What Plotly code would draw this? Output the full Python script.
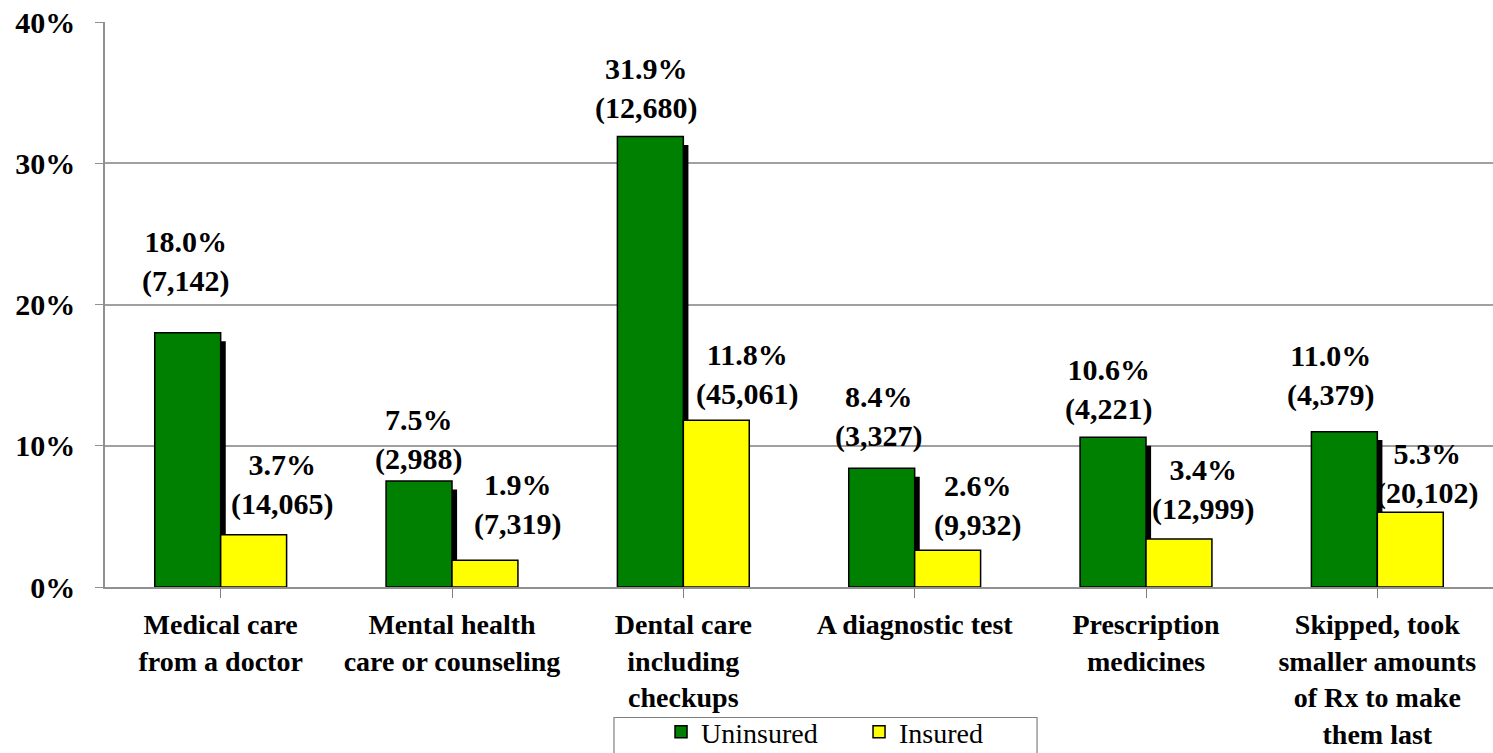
import plotly.graph_objects as go

categories = [
    "Medical care<br>from a doctor",
    "Mental health<br>care or counseling",
    "Dental care<br>including<br>checkups",
    "A diagnostic test",
    "Prescription<br>medicines",
    "Skipped, took<br>smaller amounts<br>of Rx to make<br>them last",
]
uninsured_pct = [18.0, 7.5, 31.9, 8.4, 10.6, 11.0]
uninsured_n = [7142, 2988, 12680, 3327, 4221, 4379]
insured_pct = [3.7, 1.9, 11.8, 2.6, 3.4, 5.3]
insured_n = [14065, 7319, 45061, 9932, 12999, 20102]
y_ticks = [0, 10, 20, 30, 40]

# label placement tweaks (pixels), matching the hand-placed labels
green_dx = [-2, -1, -4, -3, -5, -14]
green_dy = [71, 42, 48, 52, 48, 56]
yellow_dx = [28, 33, 31, 30, 24, 17]
yellow_dy = [50, 56, 46, 45, 49, 39]

FONT = "Liberation Serif, Times New Roman, serif"
W = 0.285
xs = list(range(len(categories)))

fig = go.Figure()
# drop shadow behind the green bars
fig.add_trace(go.Bar(
    x=xs, y=[v - 0.3 for v in uninsured_pct], base=-0.3,
    offset=-W + 0.022, width=W,
    marker=dict(color="black", line=dict(width=0)),
    showlegend=False, hoverinfo="skip",
))
fig.add_trace(go.Bar(
    x=xs, y=uninsured_pct, name="Uninsured", offset=-W, width=W,
    marker=dict(color="#008000", line=dict(color="black", width=1.5)),
))
fig.add_trace(go.Bar(
    x=xs, y=insured_pct, name="Insured", offset=0, width=W,
    marker=dict(color="#FFFF00", line=dict(color="black", width=1.5)),
))

lab_font = dict(family=FONT, size=30, color="black", weight="bold")
for i in xs:
    fig.add_annotation(
        x=i - W / 2, y=uninsured_pct[i],
        text=f"{uninsured_pct[i]:.1f}%<br>({uninsured_n[i]:,})",
        showarrow=False, yanchor="middle", xanchor="center",
        xshift=green_dx[i], yshift=green_dy[i], font=lab_font,
    )
    fig.add_annotation(
        x=i + W / 2, y=insured_pct[i],
        text=f"{insured_pct[i]:.1f}%<br>({insured_n[i]:,})",
        showarrow=False, yanchor="middle", xanchor="center",
        xshift=yellow_dx[i], yshift=yellow_dy[i], font=lab_font,
    )

# legend frame
fig.add_shape(type="rect", xref="paper", yref="paper",
              x0=0.3667, x1=0.6715, y0=-0.231, y1=-0.35,
              line=dict(color="#808080", width=1.2), fillcolor="rgba(0,0,0,0)")

fig.update_layout(
    barmode="overlay",
    width=1493, height=753,
    margin=dict(l=105, r=0, t=22, b=166, autoexpand=False),
    plot_bgcolor="white", paper_bgcolor="white",
    font=dict(family=FONT, color="black"),
    legend=dict(
        orientation="h", x=0.4006, xanchor="left", y=-0.2123, yanchor="top",
        borderwidth=0, bgcolor="rgba(0,0,0,0)",
        font=dict(family=FONT, size=28, color="black"),
        itemwidth=30, entrywidth=153, entrywidthmode="pixels",
    ),
    xaxis=dict(
        range=[-0.5, 5.5], automargin=False,
        tickmode="array", tickvals=xs, ticktext=categories,
        ticks="outside", ticklen=9, tickcolor="#808080", tickson="boundaries",
        showline=True, linecolor="#909090", linewidth=1.5,
        showgrid=False, ticklabelstandoff=3,
        tickfont=dict(family=FONT, size=28, color="black", weight="bold"),
    ),
    yaxis=dict(
        range=[0, 40], automargin=False,
        tickvals=y_ticks, ticktext=[f"{t}%" for t in y_ticks],
        ticks="outside", ticklen=8, tickcolor="#909090",
        showline=True, linecolor="#909090", linewidth=1.5,
        showgrid=True, gridcolor="#A0A0A0", gridwidth=1.5,
        zeroline=False, ticklabelstandoff=14, ticklabeloverflow="allow",
        tickfont=dict(family=FONT, size=30, color="black", weight="bold"),
    ),
)

fig.write_html("out.html", config={"displayModeBar": False},
               post_script="document.body.style.margin='0';")
